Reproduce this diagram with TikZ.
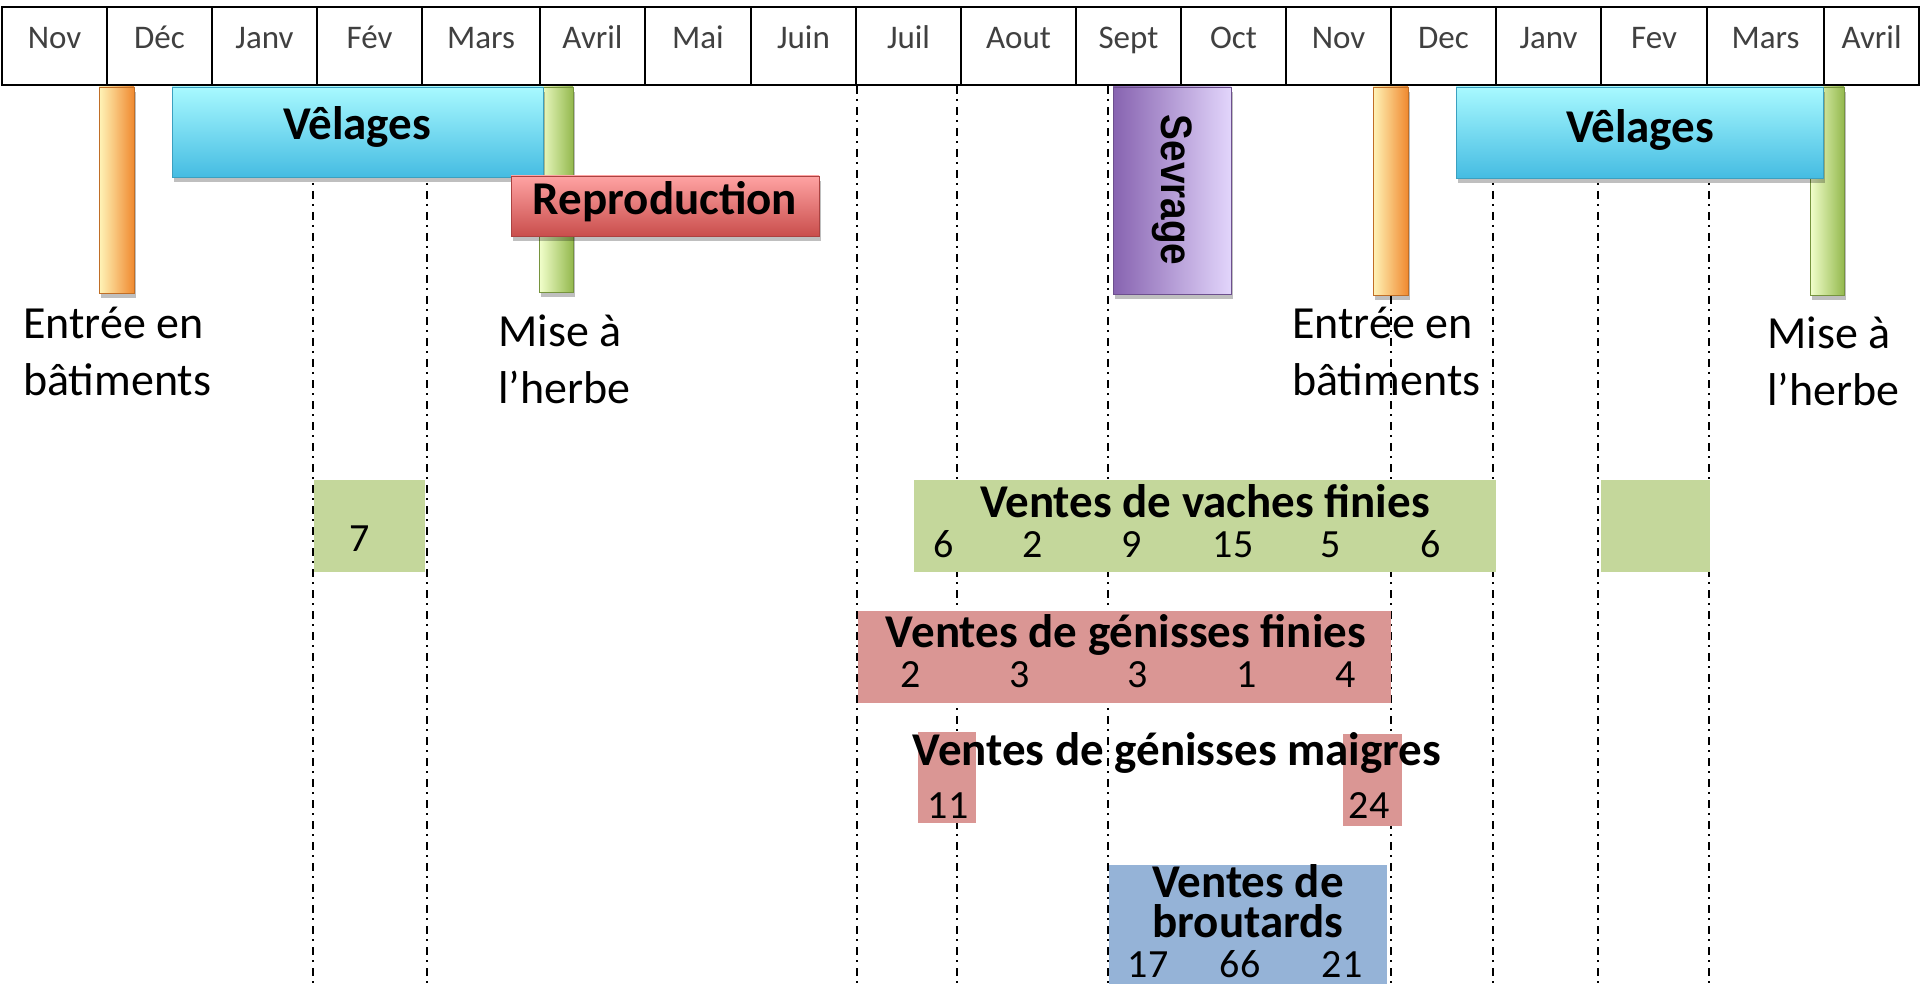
\documentclass[tikz,border=0pt]{standalone}
\usepackage{fontspec}
\setmainfont{Carlito}
\newfontfamily\arialf{Liberation Sans}
\usetikzlibrary{shadows}
\definecolor{velTop}{HTML}{A8F9FF}
\definecolor{velBot}{HTML}{45BCE2}
\definecolor{repTop}{HTML}{FFA3A3}
\definecolor{repBot}{HTML}{C94E4C}
\definecolor{orL}{HTML}{FFF4B8}
\definecolor{orR}{HTML}{F08A30}
\definecolor{grL}{HTML}{F2FFCC}
\definecolor{grR}{HTML}{94B94E}
\definecolor{svL}{HTML}{8763B0}
\definecolor{svR}{HTML}{E2D5FB}
\definecolor{vgreen}{HTML}{C4D79B}
\definecolor{vred}{HTML}{DA9694}
\definecolor{vblue}{HTML}{95B3D7}
\definecolor{mgray}{HTML}{404040}
\begin{document}
\begin{tikzpicture}[x=1pt,y=-1pt,
  month/.style={font=\fontsize{33}{40}\selectfont, text=mgray, anchor=base, inner sep=0pt},
  bevbox/.style={anchor=north west, inner sep=0pt, outer sep=0pt,
     drop shadow={shadow xshift=2pt, shadow yshift=-5pt, opacity=0.25, fill=black}},
  velbox/.style={bevbox, top color=velTop, bottom color=velBot, draw=velBot!85!black, line width=0.8pt},
  repbox/.style={bevbox, top color=repTop, bottom color=repBot, draw=repBot!85!black, line width=0.8pt},
  orbar/.style={bevbox, left color=orL, right color=orR, draw=orR!80!black, line width=0.8pt},
  grbar/.style={bevbox, left color=grL, right color=grR, draw=grR!80!black, line width=0.8pt},
  sevbox/.style={bevbox, left color=svL, right color=svR, draw=svL!80!black, line width=0.8pt},
  flatbox/.style={anchor=north west, inner sep=0pt, outer sep=0pt, fill=#1},
  title/.style={font=\bfseries\fontsize{47}{52}\selectfont, anchor=base, inner sep=0pt},
  num/.style={font=\fontsize{40}{46}\selectfont, anchor=base, inner sep=0pt},
  lbl/.style={font=\fontsize{46}{57}\selectfont, align=left, anchor=base west, inner sep=0pt},
  guide/.style={line width=2pt, dash pattern=on 8pt off 5pt on 2pt off 6pt}
]
\useasboundingbox (0,0) rectangle (1920,984);
\fill[white] (0,0) rectangle (1920,984);

% vertical guide lines
\foreach \gx in {313,427,857,957,1108,1391,1493,1598,1709}
  \draw[guide] (\gx,86) -- (\gx,984);

% header
\foreach \l/\r/\t [count=\i] in {2/107/Nov,107/212/Déc,212/317/Janv,317/422/Fév,422/540/Mars,540/645/Avril,645/751/Mai,751/856/Juin,856/961/Juil,961/1076/Aout,1076/1181/Sept,1181/1286/Oct,1286/1391/Nov,1391/1496/Dec,1496/1601/Janv,1601/1707/Fev,1707/1824/Mars,1824/1919/Avril}{
  \draw[line width=2.5pt] (\l,7) rectangle (\r,85);
  \node[month] (m\i) at ({(\l+\r)/2},49) {\t};
}

% bars
\node[orbar, minimum width=35pt, minimum height=206pt] (or1) at (99,87) {};
\node[orbar, minimum width=35pt, minimum height=208pt] (or2) at (1373,87) {};
\node[grbar, minimum width=34pt, minimum height=205pt] (gr1) at (539,87) {};
\node[grbar, minimum width=34pt, minimum height=208pt] (gr2) at (1810,87) {};

% main beveled boxes
\node[velbox, minimum width=371pt, minimum height=90pt] (vel1) at (172,87) {};
\node[velbox, minimum width=367pt, minimum height=91pt] (vel2) at (1456,87) {};
\node[repbox, minimum width=308pt, minimum height=60pt] (rep) at (511,176) {};
\node[sevbox, minimum width=118pt, minimum height=207pt] (sev) at (1113,87) {};

\node[title] (vel1t) at (357,140) {Vêlages};
\node[title] (vel2t) at (1640,143) {Vêlages};
\node[title] (rept) at (665,215) {Reproduction};
\node[rotate=-90, anchor=base, inner sep=0pt, font=\arialf\bfseries\fontsize{44}{50}\selectfont] (sevt) at (1161,190) {\scalebox{0.88}[1]{Sevrage}};

% labels (anchor = baseline of last line)
\node[lbl] (entree1) at (23,395) {Entrée en\\bâtiments};
\node[lbl] (entree2) at (1292,395) {Entrée en\\bâtiments};
\node[lbl] (mise1) at (498,403) {Mise à\\l’herbe};
\node[lbl] (mise2) at (1767,405) {Mise à\\l’herbe};

% sales boxes
\node[flatbox=vgreen, minimum width=111pt, minimum height=92pt] (vfeb) at (314,480) {};
\node[num] (n7) at (360,551) {7};
\node[flatbox=vgreen, minimum width=582pt, minimum height=92pt] (vach) at (914,480) {};
\node[flatbox=vgreen, minimum width=109pt, minimum height=92pt] (vfev) at (1601,480) {};
\node[title] (vacht) at (1205,517) {Ventes de vaches finies};
\foreach \nx/\nt [count=\i] in {944/6,1033/2,1132/9,1233/15,1331/5,1431/6}
  \node[num] (vn\i) at (\nx,557) {\nt};

\node[flatbox=vred, minimum width=533pt, minimum height=92pt] (gfin) at (858,611) {};
\node[title] (gfint) at (1126,647) {Ventes de génisses finies};
\foreach \nx/\nt [count=\i] in {911/2,1020/3,1138/3,1247/1,1346/4}
  \node[num] (gn\i) at (\nx,687) {\nt};

\node[flatbox=vred, minimum width=58pt, minimum height=91pt] (gm1) at (918,732) {};
\node[flatbox=vred, minimum width=59pt, minimum height=92pt] (gm2) at (1343,734) {};
\node[num] (gm1n) at (948,818) {11};
\node[num] (gm2n) at (1369,818) {24};
\node[title] (gmt) at (1177,765) {Ventes de génisses maigres};

\node[flatbox=vblue, minimum width=278pt, minimum height=125pt] (brou) at (1109,865) {};
\node[title, align=center, font=\bfseries\fontsize{47}{40}\selectfont] (brout) at (1248,937) {Ventes de\\broutards};
\foreach \nx/\nt [count=\i] in {1148/17,1240/66,1342/21}
  \node[num] (bn\i) at (\nx,977) {\nt};
\end{tikzpicture}
\end{document}
